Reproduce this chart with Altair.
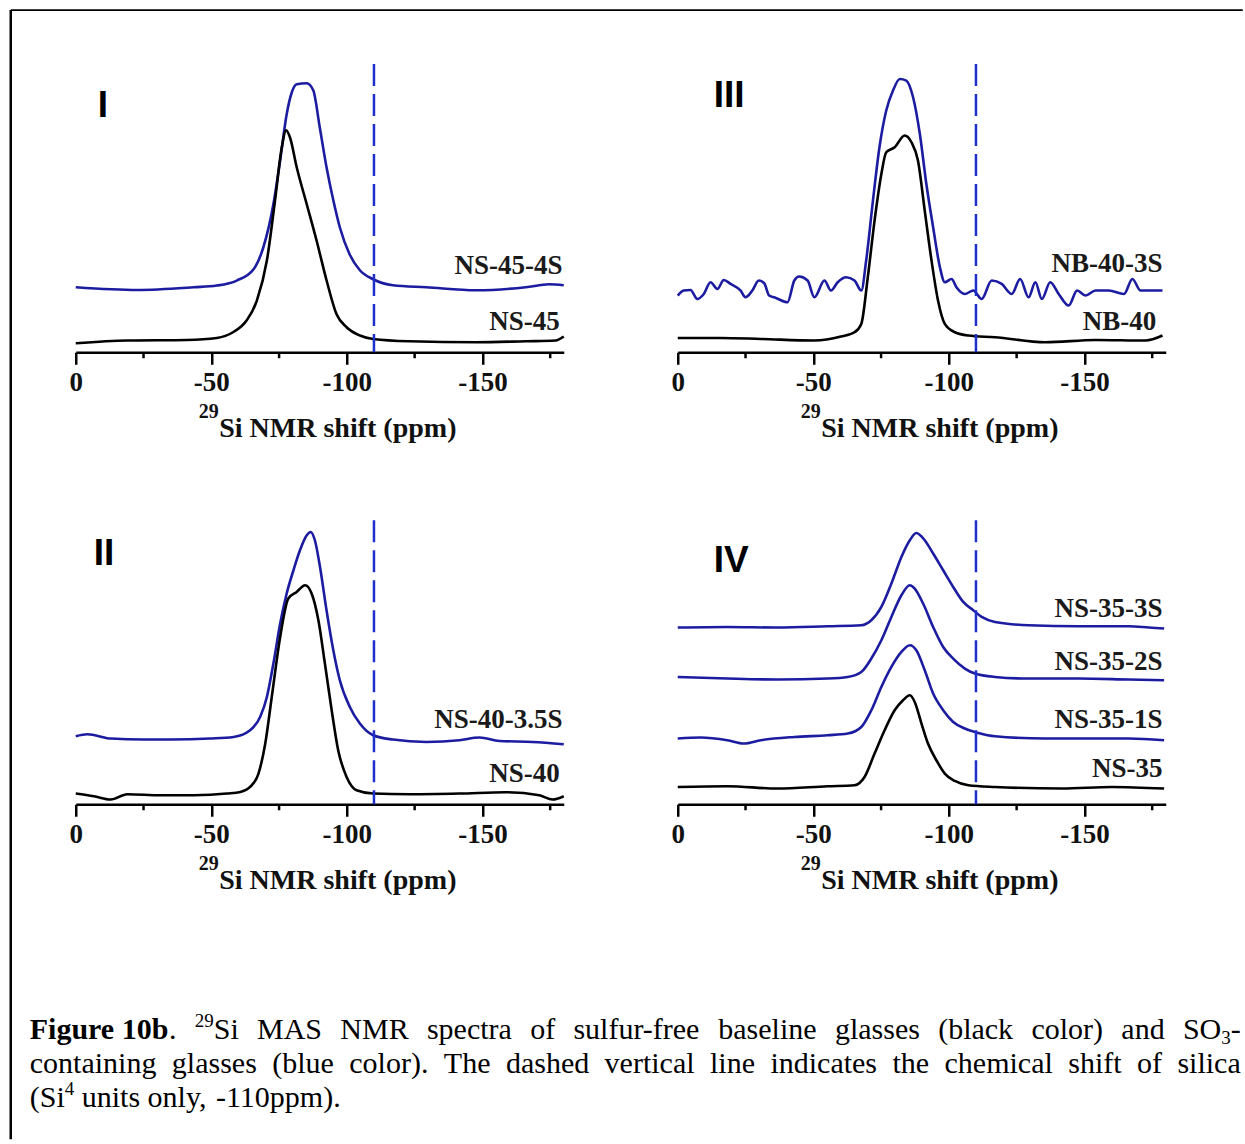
import altair as alt
import pandas as pd

# ---------------- data ----------------
MAJOR_TICKS = [0, -50, -100, -150]
MINOR_TICKS = [-25, -75, -125, -175]
SILICA_PPM = -110

# Panel I
I_ns45_4s_ppm = [0, -22.7, -43.5, -52, -59.4, -65.6, -69.2, -72.9, -75.4, -77.8, -79.7, -81.5, -85.2, -87.6, -90,
                 -92.5, -95, -97.4, -101, -104.8, -109.7, -117, -129.3, -147.7, -166, -174.6, -180]
I_ns45_4s_int = [65, 62.3, 65, 66.7, 71.7, 83, 105, 148, 192, 238, 260, 268, 269, 262, 225,
                 185, 152, 125, 98, 82, 73, 67, 65, 62, 65, 68, 67]
I_ns45_ppm = [0, -19, -41, -52, -58, -63, -66.8, -70.5, -73.5, -76, -77.6, -79, -81.5, -85.2, -88.8, -92.5,
              -96.2, -99.9, -104.8, -109.7, -123, -147.7, -166, -177, -180]
I_ns45_int = [9, 11.7, 12.3, 14.3, 20, 31.7, 51.7, 91.7, 151.7, 205, 222, 215, 185, 148, 112, 72,
              38, 25, 16.7, 13.3, 11, 10, 11, 11.7, 15.7]

# Panel III
III_nb40_3s_ppm = [0, -2.2, -4.7, -7.2, -9.6, -12.1, -14.6, -17, -19.5, -23.2, -25, -27.5, -29.9, -31.9, -33.7,
                   -36.2, -40.5, -43, -44.8, -47.9, -50.4, -54.1, -56.5, -59, -62.1, -65.2, -67.7, -69.5, -72,
                   -74.4, -76.9, -79.4, -81.9, -84.3, -86.8, -89.3, -91.7, -94.2, -96.7, -98.5, -101, -102.8,
                   -105.9, -109, -112.1, -115.8, -119.5, -123.2, -126.3, -129.4, -131.9, -134.3, -137.4, -140.5,
                   -144.2, -147.3, -150.4, -154.1, -159, -164.6, -167.7, -170.7, -178.8]
III_nb40_3s_int = [56.7, 61.7, 62.3, 53.3, 58.3, 70, 63.3, 72.3, 68.3, 61.7, 55, 61.7, 71.7, 69, 56.7,
                   54.3, 50, 71.7, 75.7, 71.7, 55, 71.7, 61.7, 70, 75, 71.7, 61.7, 91.7, 151.7,
                   205, 241.7, 261.7, 273.3, 271.7, 255, 218.3, 168.3, 125, 85, 70, 73.3, 65,
                   58.3, 61.7, 53.3, 71.7, 68.3, 58.3, 73.3, 55, 70, 53.3, 70, 58.3,
                   46.7, 61.7, 56.7, 61.7, 61.7, 58.3, 73.3, 61.7, 61.7]
III_nb40_ppm = [0, -15.8, -30.6, -50.4, -60.2, -65.2, -67.7, -70.1, -72.6, -75.1, -76.9, -80, -83.7, -86.2,
                -88.6, -91.1, -93.6, -96, -98.5, -102.2, -107.2, -117, -135.6, -154.1, -172.6, -178.8]
III_nb40_int = [14.3, 14.3, 13.3, 11.7, 15.7, 20, 28.3, 75, 131.7, 178.3, 200, 205, 216.7, 210,
                191.7, 141.7, 91.7, 51.7, 28.3, 20, 16.7, 15, 10, 12.3, 11.7, 16.7]

# Panel II
II_ns40_35s_ppm = [0, -4.3, -12.9, -25.1, -34.9, -49.6, -58.2, -64.3, -68, -70.5, -72.9, -75.4, -77.8, -80.3,
                   -82.7, -85.2, -86.6, -88.2, -90.1, -92.5, -95, -97.4, -101.1, -104.8, -109.7, -117, -129.3,
                   -141.5, -148.9, -156.3, -168.5, -180]
II_ns40_35s_int = [68, 70, 65.7, 64.7, 64.7, 65.7, 67.3, 74, 87.3, 107.3, 140.7, 180.7, 210.7, 234,
                   254, 269, 272.3, 264, 237.3, 194, 154, 124, 97.3, 80.7, 69, 64.7, 62.3,
                   64, 66.7, 63.3, 62.3, 60]
II_ns40_ppm = [0, -6.7, -12.9, -19, -31.3, -43.5, -55.8, -60.7, -64.3, -67.4, -69.9, -72.3, -75.4, -78.4,
               -81.5, -84.6, -87, -89.5, -91.9, -94.4, -96.8, -99.9, -103.6, -109.7, -123.2, -141.5, -158.6,
               -171, -175.9, -180]
II_ns40_int = [10.7, 8, 4.7, 10, 9, 9, 10.7, 12.3, 17.3, 30.7, 60.7, 107.3, 167.3, 205.7,
               212.3, 219, 210.7, 184, 140.7, 94, 54, 27.3, 14, 10.7, 10, 10.7, 12,
               9, 4.7, 8]

# Panel IV
IV_ns35_3s_ppm = [0, -18.3, -36.8, -55.3, -67.7, -71.4, -75.1, -78.8, -82.5, -85.6, -88, -91.1, -94.2, -97.9,
                  -101.6, -105.3, -109, -112.1, -117, -129.4, -147.9, -166.4, -173.8, -179.4]
IV_ns35_3s_int = [176.7, 177.3, 176.7, 178, 179, 184, 197.3, 220.7, 247.3, 264, 271.3, 264, 250.7, 234,
                  217.3, 202.3, 194, 187.3, 182.3, 179, 178, 178, 176.7, 175.7]
IV_ns35_2s_ppm = [0, -18.3, -36.8, -55.3, -62.7, -67.7, -71.4, -75.1, -78.8, -82.5, -85.6, -87.4, -90.5, -94.2,
                  -97.9, -101.6, -105.9, -109.6, -117, -129.4, -147.9, -166.4, -179.4]
IV_ns35_2s_int = [127.3, 125.7, 124.7, 125.7, 127.3, 132.3, 145.7, 164, 187.3, 209, 219, 215.7, 200.7, 177.3,
                  157.3, 145.7, 135.7, 130.7, 127.3, 125.7, 125.7, 124.7, 124]
IV_ns35_1s_ppm = [0, -8.4, -18.3, -24.4, -30.6, -43, -55.3, -62.7, -67.7, -71.4, -75.1, -78.8, -82.5, -85.6,
                  -88, -91.1, -94.2, -97.9, -101.6, -105.9, -110.9, -117, -135.6, -154.1, -166.4, -179.4]
IV_ns35_1s_int = [65.7, 66.7, 64, 60.7, 64, 67.3, 69, 70.7, 77.3, 94, 117.3, 137.3, 152.3, 159,
                  154, 134, 110.7, 94, 82.3, 75.7, 71.3, 68, 65.7, 65.7, 65.7, 64]
IV_ns35_ppm = [0, -18.3, -36.8, -55.3, -65.2, -68.9, -72.6, -76.3, -80, -83.1, -85.6, -87.4, -89.9, -92.3,
               -95.4, -98.5, -102.2, -107.2, -117, -141.7, -160.2, -179.4]
IV_ns35_int = [17.3, 18, 15.7, 18, 19, 27.3, 50.7, 74, 94, 104, 109, 102.3, 80.7, 60.7,
               44, 30.7, 23.3, 19, 17.3, 15.7, 17.3, 15.7]

# curve labels: text, anchor ppm, intensity
I_labels = [("NS-45-4S", -179.5, 86.7), ("NS-45", -178.5, 30)]
III_labels = [("NB-40-3S", -178.8, 88.4), ("NB-40", -176.5, 30)]
II_labels = [("NS-40-3.5S", -179.5, 84), ("NS-40", -178.5, 30.7)]
IV_labels = [("NS-35-3S", -178.8, 195.7), ("NS-35-2S", -178.8, 142.3), ("NS-35-1S", -178.8, 84), ("NS-35", -178.8, 35.7)]

# caption text
CAPTION_LINE1 = [[("Figure 10b", "b"), (".", "r")], [("29", "sup"), ("Si", "r")], [("MAS", "r")], [("NMR", "r")],
                 [("spectra", "r")], [("of", "r")], [("sulfur-free", "r")], [("baseline", "r")], [("glasses", "r")],
                 [("(black", "r")], [("color)", "r")], [("and", "r")], [("SO", "r"), ("3", "sub"), ("-", "r")]]
CAPTION_LINE2 = [[(w, "r")] for w in
                 "containing glasses (blue color). The dashed vertical line indicates the chemical shift of silica".split()]
CAPTION_LINE3 = [[("(Si", "r"), ("4", "sup")], [("units", "r")], [("only,", "r")], [("-110ppm).", "r")]]

# ---------------- styling ----------------
BLUE = "#1c1ca0"
DASH_BLUE = "#1f2fcc"
BLACK = "#000000"
SERIF = "Liberation Serif"
SANS = "Liberation Sans"
W, H = 488, 290

XS = alt.Scale(domain=[0, -180], nice=False, zero=False)
YS = alt.Scale(domain=[0, H], nice=False, zero=False)
ONE = alt.Data(values=[{"k": 1}])


def x_axis():
    return alt.Axis(
        values=MAJOR_TICKS,
        labelExpr="'' + datum.value",
        tickSize=12,
        tickWidth=2.5, tickColor=BLACK, domainWidth=2.5, domainColor=BLACK,
        labelFont=SERIF, labelFontWeight="bold", labelFontSize=27, labelColor="#111111",
        labelPadding=5, labelFlush=False, labelOverlap=False, grid=False,
        title="Si NMR shift (ppm)", titleFont=SERIF, titleFontWeight="bold", titleFontSize=28,
        titleColor="#111111", titleX=143, titleY=84, titleAlign="left", titleBaseline="alphabetic",
    )


def panel(curves, labels, dash_top, numeral, num_x, num_base, extra=()):
    rows = []
    for name, xs_, ys_, color in curves:
        for i, (a, b) in enumerate(zip(xs_, ys_)):
            rows.append({"series": name, "ppm": a, "h": b, "color": color, "order": i})
    df = pd.DataFrame(rows)
    lines = alt.Chart(df).mark_line(strokeWidth=2.6, strokeJoin="round", interpolate="monotone").encode(
        x=alt.X("ppm:Q", scale=XS, axis=x_axis()),
        y=alt.Y("h:Q", scale=YS, axis=None),
        detail="series:N",
        color=alt.Color("color:N", scale=None),
        order="order:Q",
    )
    minor = alt.Chart(pd.DataFrame({"ppm": MINOR_TICKS})).mark_rule(color=BLACK, strokeWidth=2.5).encode(
        x=alt.X("ppm:Q", scale=XS),
        y=alt.value(H),
        y2=alt.value(H + 6),
    )
    dash = alt.Chart(pd.DataFrame({"ppm": [SILICA_PPM], "top": [dash_top], "bot": [0]})).mark_rule(
        color=DASH_BLUE, strokeWidth=2.5, strokeDash=[22, 8]
    ).encode(
        x=alt.X("ppm:Q", scale=XS),
        y=alt.Y("top:Q", scale=YS, axis=None),
        y2="bot:Q",
    )
    lab_df = pd.DataFrame(labels, columns=["text", "ppm", "h"])
    labs = alt.Chart(lab_df).mark_text(
        align="right", baseline="middle", font=SERIF, fontSize=27, fontWeight="bold", color="#1a1a1a"
    ).encode(
        x=alt.X("ppm:Q", scale=XS),
        y=alt.Y("h:Q", scale=YS, axis=None),
        text="text:N",
    )
    num = alt.Chart(ONE).mark_text(
        text=numeral, align="left", baseline="alphabetic", font=SANS, fontSize=37, fontWeight="bold", color=BLACK
    ).encode(x=alt.value(num_x), y=alt.value(num_base))
    sup = alt.Chart(ONE).mark_text(
        text="29", align="right", baseline="alphabetic", font=SERIF, fontSize=20, fontWeight="bold", color="#111111"
    ).encode(x=alt.value(143), y=alt.value(356))
    return alt.layer(lines, minor, dash, labs, num, sup, *extra).properties(width=W, height=H)


# ---------- frame (relative to panel I plot origin) ----------
frame = [
    alt.Chart(ONE).mark_rule(color=BLACK, strokeWidth=1.8).encode(
        x=alt.value(-65), x2=alt.value(1167), y=alt.value(-52.2)),
    alt.Chart(ONE).mark_rule(color=BLACK, strokeWidth=2.5).encode(
        x=alt.value(-65), y=alt.value(-52.2), y2=alt.value(1077)),
]

# ---------- caption (relative to panel II plot origin) ----------
REG = dict(zip("abcdefghijklmnopqrstuvwxyz",
               [444, 500, 444, 500, 444, 333, 500, 500, 278, 278, 500, 278, 778, 500, 500, 500, 500, 333, 389, 278,
                500, 500, 722, 500, 500, 444]))
REG.update({"A": 722, "M": 889, "N": 722, "O": 722, "R": 667, "S": 556, "T": 611, "(": 333, ")": 333, "-": 333,
            ".": 250, ",": 250, " ": 250})
REG.update({d: 500 for d in "0123456789"})
BOLD = {"F": 611, "i": 278, "g": 500, "u": 556, "r": 444, "e": 444, " ": 250, "1": 500, "0": 500, "b": 556}
CAP_SIZE = 30
STYLES = {"r": (CAP_SIZE, "normal", 0), "b": (CAP_SIZE, "bold", 0), "sup": (19, "normal", -12),
          "sub": (19, "normal", 5)}


def text_width(s, size, bold):
    t = BOLD if bold else REG
    return sum(t.get(c, 500) for c in s) * size / 1000.0


def layout_line(tokens, baseline, left, right, justify):
    widths = []
    for tok in tokens:
        widths.append(sum(text_width(s, STYLES[st][0], STYLES[st][1] == "bold") for s, st in tok))
    if justify:
        gap = (right - left - sum(widths)) / (len(tokens) - 1)
    else:
        gap = 0.25 * CAP_SIZE
    out = []
    x = left
    for tok, w in zip(tokens, widths):
        px = x
        for s, st in tok:
            size, weight, dy = STYLES[st]
            out.append((s, px, baseline + dy, size, weight))
            px += text_width(s, size, weight == "bold")
        x += w + gap
    return out


CAP_L, CAP_R = -46, 1165
pieces = (layout_line(CAPTION_LINE1, 525, CAP_L, CAP_R, True)
          + layout_line(CAPTION_LINE2, 559, CAP_L, CAP_R, True)
          + layout_line(CAPTION_LINE3, 593, CAP_L, CAP_R, False))
caption = [
    alt.Chart(ONE).mark_text(text=s, align="left", baseline="alphabetic", font=SERIF, fontSize=size,
                             fontWeight=weight, color=BLACK).encode(x=alt.value(px), y=alt.value(py))
    for s, px, py, size, weight in pieces
]

# ---------- panels ----------
pI = panel([("NS-45-4S", I_ns45_4s_ppm, I_ns45_4s_int, BLUE), ("NS-45", I_ns45_ppm, I_ns45_int, BLACK)],
           I_labels, 288.3, "I", 22, 55, extra=frame)
pIII = panel([("NB-40-3S", III_nb40_3s_ppm, III_nb40_3s_int, BLUE), ("NB-40", III_nb40_ppm, III_nb40_int, BLACK)],
             III_labels, 288.3, "III", 36, 45)
pII = panel([("NS-40-3.5S", II_ns40_35s_ppm, II_ns40_35s_int, BLUE), ("NS-40", II_ns40_ppm, II_ns40_int, BLACK)],
            II_labels, 284, "II", 18, 51, extra=caption)
pIV = panel([("NS-35-3S", IV_ns35_3s_ppm, IV_ns35_3s_int, BLUE), ("NS-35-2S", IV_ns35_2s_ppm, IV_ns35_2s_int, BLUE),
             ("NS-35-1S", IV_ns35_1s_ppm, IV_ns35_1s_int, BLUE), ("NS-35", IV_ns35_ppm, IV_ns35_int, BLACK)],
            IV_labels, 284, "IV", 36, 58)

chart = alt.concat(pI, pIII, pII, pIV, columns=2, spacing={"row": 162, "column": 114}, bounds="flush").properties(
    padding={"left": 8.75, "top": 8.25, "right": 0, "bottom": 0},
    background="white",
).configure_view(strokeWidth=0)

chart.save("out.html", embed_options={"renderer": "svg", "actions": False})
